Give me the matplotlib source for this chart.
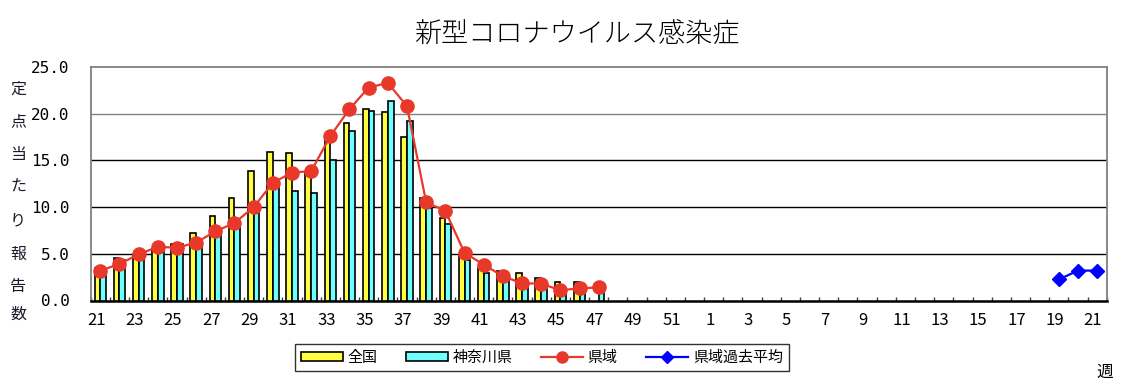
import numpy as np
import matplotlib
matplotlib.use("Agg")
import matplotlib.pyplot as plt
import matplotlib.transforms as mtransforms
from matplotlib.patches import Patch
from matplotlib.lines import Line2D

plt.rcParams['font.family'] = ['Noto Sans CJK JP', 'DejaVu Sans']

# ---- data ----
weeks = [21, 22, 23, 24, 25, 26, 27, 28, 29, 30, 31, 32, 33, 34, 35, 36,
         37, 38, 39, 40, 41, 42, 43, 44, 45, 46, 47, 48, 49, 50, 51, 52,
         1, 2, 3, 4, 5, 6, 7, 8, 9, 10, 11, 12, 13, 14, 15, 16, 17, 18,
         19, 20, 21]
national = [3.5, 4.5, 4.9, 5.5, 6.1, 7.2, 9.1, 11.0, 13.9, 15.9, 15.8, 13.8,
            17.3, 19.0, 20.5, 20.2, 17.5, 11.0, 8.8, 4.8, 3.5, 3.2, 2.9,
            2.4, 2.0, 1.95, np.nan]
kanagawa = [2.9, 4.3, 4.6, 5.35, 6.0, 6.2, 7.2, 7.9, 9.5, 12.1, 11.7, 11.5,
            15.0, 18.1, 20.3, 21.4, 19.2, 9.9, 8.2, 4.3, 2.95, 2.3, 1.6,
            1.5, 1.1, 0.95, 1.1]
prefecture = [3.2, 3.9, 4.95, 5.75, 5.65, 6.2, 7.4, 8.3, 10.0, 12.6, 13.7,
              13.85, 17.6, 20.5, 22.8, 23.3, 20.8, 10.5, 9.6, 5.1, 3.85, 2.6,
              1.85, 1.8, 1.1, 1.3, 1.4]
past_avg_weeks_idx = [50, 51, 52]
past_avg = [2.25, 3.2, 3.2]
yticks = [0, 5, 10, 15, 20, 25]

# ---- figure ----
fig = plt.figure(figsize=(11.24, 3.86), dpi=100)
ax = fig.add_axes([90.7 / 1124, 1 - 300.5 / 386, (1106.7 - 90.7) / 1124, (300.5 - 67) / 386])

n = len(weeks)
x = np.arange(len(national))
bw = 0.30
ax.bar(x - bw / 2, national, bw, color='#FFFF40', edgecolor='black', linewidth=1.2, zorder=3)
ax.bar(x + bw / 2, kanagawa, bw, color='#70FFFF', edgecolor='black', linewidth=1.2, zorder=3)
ax.plot(np.arange(len(prefecture)), prefecture, color='#E8382A', lw=1.6,
        marker='o', ms=9.5, zorder=5)
ax.plot(past_avg_weeks_idx, past_avg, color='#0000FF', lw=1.6,
        marker='D', ms=7, zorder=5)

ax.set_xlim(-0.5, n - 0.5)
ax.set_ylim(0, 25)

# gridlines
for v in yticks[1:-1]:
    ax.axhline(v, color='#808080' if v == 20 else 'black', lw=1.0, zorder=1)

for s in ['top', 'left', 'right']:
    ax.spines[s].set_color('#808080')
    ax.spines[s].set_linewidth(1.3)
ax.spines['bottom'].set_color('black')
ax.spines['bottom'].set_linewidth(1.8)

ax.set_yticks(yticks)
ax.set_yticklabels([f"{v:.1f}" for v in yticks], family='DejaVu Sans Mono', fontsize=11.5)
ax.tick_params(axis='y', length=0, pad=15)

major = list(range(0, n, 2))
ax.set_xticks(major)
ax.set_xticklabels([str(weeks[i]) for i in major], fontsize=12)
ax.set_xticks(np.arange(-0.5, n, 1.0), minor=True)
ax.tick_params(axis='x', which='major', length=0, pad=8)
ax.tick_params(axis='x', which='minor', length=3, direction='in', color='#404040', width=1)
off = mtransforms.ScaledTranslation(-4 / 100, 0, fig.dpi_scale_trans)
for lab in ax.get_xticklabels():
    lab.set_transform(lab.get_transform() + off)

# title
fig.text(577 / 1124, 1 - 34.5 / 386, '新型コロナウイルス感染症', ha='center', va='center',
         fontsize=19.5, fontweight='light')

# vertical y label
ylabel_chars = '定点当たり報告数'
ypos = [89, 122, 155, 187, 221, 254, 286, 314]
for ch, yp in zip(ylabel_chars, ypos):
    fig.text(18 / 1124, 1 - yp / 386, ch, ha='center', va='center', fontsize=11.5, color='#1a1a2a')

fig.text(1105 / 1124, 1 - 372 / 386, '週', ha='center', va='center', fontsize=12)

# legend
handles = [
    Patch(facecolor='#FFFF40', edgecolor='black', linewidth=1.2),
    Patch(facecolor='#70FFFF', edgecolor='black', linewidth=1.2),
    Line2D([0], [0], color='#E8382A', lw=1.6, marker='o', ms=8),
    Line2D([0], [0], color='#0000FF', lw=1.6, marker='D', ms=6),
]
labels = ['全国', '神奈川県', '県域', '県域過去平均']
leg = fig.legend(handles, labels, loc='center', bbox_to_anchor=(542 / 1124, 1 - 357.5 / 386),
                 ncol=4, fontsize=10.8, frameon=True, fancybox=False, edgecolor='black',
                 handlelength=2.8, handleheight=0.6, columnspacing=1.9, handletextpad=0.3,
                 borderpad=0.4, borderaxespad=0)
leg.get_frame().set_linewidth(1.0)

fig.savefig('out.png', dpi=100)
